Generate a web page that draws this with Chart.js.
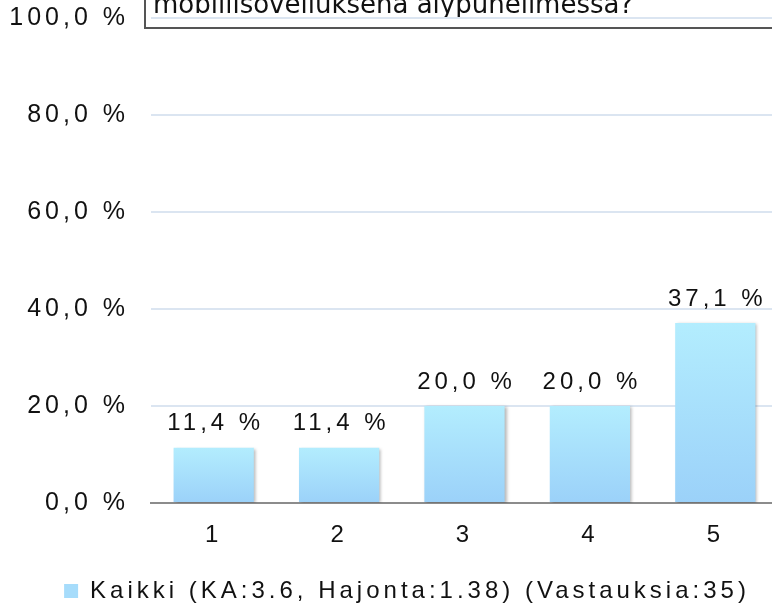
<!DOCTYPE html>
<html><head><meta charset="utf-8">
<script src="https://cdn.jsdelivr.net/npm/chart.js@4/dist/chart.umd.min.js"></script>
<style>
html,body{margin:0;padding:0;overflow:hidden;background:#fff;width:772px;height:605px}
#wrap{position:absolute;left:0;top:0;width:778px;height:613px}
</style>
</head><body><div id="wrap"><canvas id="c" width="778" height="613"></canvas></div>
<script>
const categories = ['1', '2', '3', '4', '5'];
const values = [11.4, 11.4, 20.0, 20.0, 37.1];
const seriesLabel = 'Kaikki (KA:3.6, Hajonta:1.38) (Vastauksia:35)';
const yTickValues = [0, 20, 40, 60, 80, 100];
const titleText = 'mobiilisovelluksena älypuhelimessa?';

const FONT = "'Liberation Sans', Arial, sans-serif";
const SPACING = '4px';
const fmt = v => Number(v).toFixed(1).replace('.', ',') + ' %';

function barGradient(c) {
  const chart = c.chart;
  if (!chart.chartArea || c.type !== 'data') return '#a6dcfb';
  const ys = chart.scales.y;
  const top = ys.getPixelForValue(c.raw), base = ys.getPixelForValue(0);
  const g = chart.ctx.createLinearGradient(0, top, 0, base);
  g.addColorStop(0, '#b3edfe');
  g.addColorStop(1, '#9bd1f9');
  return g;
}

const stylePlugin = {
  id: 'stylePlugin',
  beforeUpdate(chart) { chart.ctx.letterSpacing = SPACING; },
  beforeLayout(chart) { chart.ctx.letterSpacing = SPACING; },
  afterLayout(chart) { const lg = chart.legend; if (lg) { lg.left += 18; lg.right += 18; } },
  beforeDraw(chart) {
    const ctx = chart.ctx;
    ctx.letterSpacing = SPACING;
    ctx.save();
    ctx.fillStyle = '#fff';
    ctx.fillRect(145, -10, chart.width, 38);
    ctx.strokeStyle = '#555';
    ctx.lineWidth = 2;
    ctx.strokeRect(145, -10, chart.width, 38);
    ctx.letterSpacing = '0px';
    ctx.font = "26px 'DejaVu Sans'";
    ctx.fillStyle = '#111';
    ctx.textAlign = 'left';
    ctx.textBaseline = 'alphabetic';
    ctx.fillText(titleText, 153, 13);
    ctx.restore();
  },
  beforeDatasetsDraw(chart) {
    const ctx = chart.ctx;
    ctx.save();
    ctx.shadowColor = 'rgba(0,0,0,0.28)';
    ctx.shadowBlur = 3;
    ctx.shadowOffsetX = 2;
    ctx.shadowOffsetY = 1;
  },
  afterDatasetsDraw(chart) {
    const ctx = chart.ctx;
    ctx.restore();
    ctx.save();
    ctx.letterSpacing = SPACING;
    ctx.font = '24px ' + FONT;
    ctx.fillStyle = '#111';
    ctx.textAlign = 'center';
    ctx.textBaseline = 'middle';
    chart.getDatasetMeta(0).data.forEach((bar, i) => {
      ctx.fillText(fmt(values[i]), bar.x + 2, bar.y - 24);
    });
    ctx.restore();
  }
};

new Chart(document.getElementById('c'), {
  type: 'bar',
  data: {
    labels: categories,
    datasets: [{
      label: seriesLabel,
      data: values,
      backgroundColor: barGradient,
      borderWidth: 0,
      barPercentage: 0.64,
      categoryPercentage: 1
    }]
  },
  options: {
    responsive: false,
    animation: false,
    layout: { padding: { top: 18, left: 0, right: 0, bottom: 0 } },
    plugins: {
      tooltip: { enabled: false },
      legend: {
        position: 'bottom',
        labels: {
          font: { family: FONT, size: 24 },
          color: '#111',
          boxWidth: 14,
          boxHeight: 14,
          padding: 10,
          generateLabels(chart) {
            const items = Chart.defaults.plugins.legend.labels.generateLabels(chart);
            items.forEach(it => { it.fillStyle = '#a6dcfb'; it.strokeStyle = '#a6dcfb'; it.lineWidth = 0; });
            return items;
          }
        }
      }
    },
    scales: {
      x: {
        grid: { display: false, drawTicks: false },
        border: { display: true, color: '#8c8c8c', width: 2 },
        ticks: { font: { family: FONT, size: 24 }, color: '#111', padding: 18 },
        afterFit(s) { s.height = 66; s.paddingLeft = 0; s.paddingRight = 0; }
      },
      y: {
        min: 0, max: 100,
        afterBuildTicks(s) { s.ticks = yTickValues.map(v => ({ value: v })); },
        ticks: { callback: v => fmt(v), font: { family: FONT, size: 25 }, color: '#111', padding: 22 },
        grid: {
          drawTicks: false,
          lineWidth: 2,
          color: c => (c.tick && c.tick.value === 0) ? 'rgba(0,0,0,0)' : '#dbe5f1'
        },
        border: { display: false },
        afterFit(s) { s.width = 151; s.paddingTop = 0; s.paddingBottom = 0; }
      }
    }
  },
  plugins: [stylePlugin]
});
</script>
</body></html>
